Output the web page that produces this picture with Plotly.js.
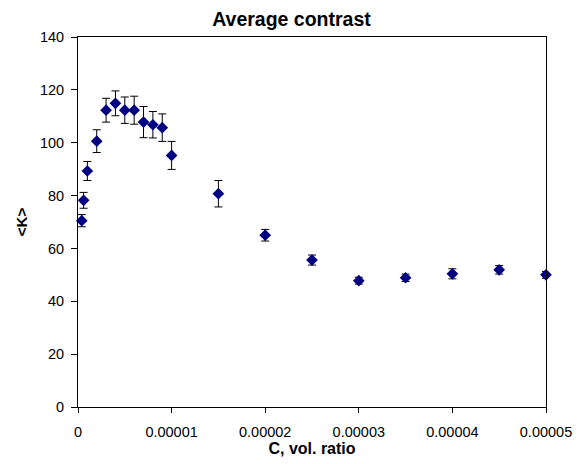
<!DOCTYPE html>
<html>
<head>
<meta charset="utf-8">
<script src="https://cdn.plot.ly/plotly-3.0.1.min.js"></script>
<style>html,body{margin:0;padding:0;background:#fff;}#chart{width:583px;height:464px;}</style>
</head>
<body>
<div id="chart"></div>
<script>
var concentration = [0.0000004, 0.0000006, 0.000001, 0.000002, 0.000003, 0.000004, 0.000005, 0.000006, 0.000007, 0.000008, 0.000009, 0.00001, 0.000015, 0.00002, 0.000025, 0.00003, 0.000035, 0.00004, 0.000045, 0.00005];
var contrast = [70.5, 78.2, 89.3, 100.6, 112.3, 114.9, 112.3, 112.3, 107.8, 106.8, 105.7, 95.2, 80.7, 65.0, 55.6, 47.8, 48.9, 50.4, 51.9, 50.0];
var contrastErr = [2.3, 3.0, 3.6, 4.3, 4.5, 4.7, 5.0, 5.3, 5.9, 5.0, 5.2, 5.3, 5.0, 2.2, 1.9, 1.3, 1.4, 1.9, 1.6, 1.3];
var xTickVals = [0, 0.00001, 0.00002, 0.00003, 0.00004, 0.00005];
var xTickText = ["0", "0.00001", "0.00002", "0.00003", "0.00004", "0.00005"];
var yTickVals = [0, 20, 40, 60, 80, 100, 120, 140];

var trace = {
  x: concentration,
  y: contrast,
  type: 'scatter',
  mode: 'markers',
  marker: {symbol: 'diamond', color: '#000080', size: 9},
  error_y: {type: 'data', array: contrastErr, visible: true, color: '#000000', thickness: 1, width: 4},
  cliponaxis: false,
  showlegend: false
};

var fam = 'Liberation Sans, Arial, sans-serif';
var tickFont = {family: fam, size: 14.5, color: '#000'};

var layout = {
  width: 583, height: 464,
  margin: {l: 77.5, r: 36.5, t: 37, b: 57, pad: 0},
  paper_bgcolor: '#fff', plot_bgcolor: '#fff',
  font: {family: fam, size: 14, color: '#000'},
  title: {text: '<b>Average contrast</b>', font: {family: fam, size: 19.5, color: '#000'}, x: 0.5, xref: 'container', xanchor: 'center', y: 0.959, yanchor: 'middle'},
  xaxis: {
    range: [0, 0.00005], tickmode: 'array', tickvals: xTickVals, ticktext: xTickText,
    showgrid: false, zeroline: false, showline: true, linecolor: '#000', linewidth: 1, mirror: true,
    ticks: 'outside', ticklen: 5, tickcolor: '#000', tickfont: tickFont, ticklabelstandoff: 7,
    title: {text: '<b>C, vol. ratio</b>', font: {family: fam, size: 16, color: '#000'}, standoff: 0}
  },
  yaxis: {
    range: [0, 140], tickmode: 'array', tickvals: yTickVals,
    showgrid: false, zeroline: false, showline: true, linecolor: '#000', linewidth: 1, mirror: true,
    ticks: 'outside', ticklen: 6, tickcolor: '#000', tickfont: tickFont, ticklabelstandoff: 4,
    title: {text: '<b>&lt;K&gt;</b>', font: {family: fam, size: 15, color: '#000'}, standoff: 8}
  }
};

Plotly.newPlot('chart', [trace], layout, {displayModeBar: false, staticPlot: true});
</script>
</body>
</html>
